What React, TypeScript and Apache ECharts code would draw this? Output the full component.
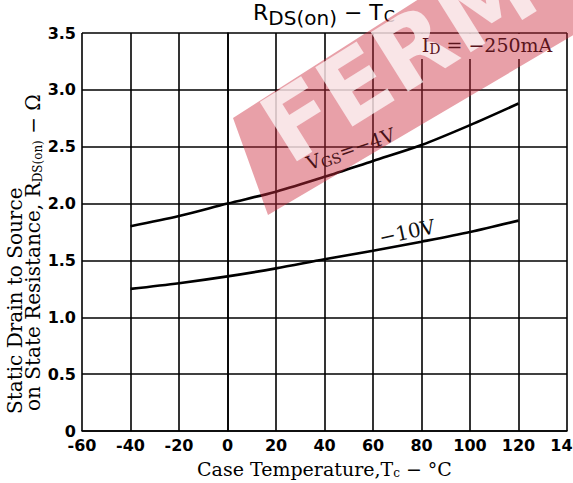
import React, { useEffect, useRef } from 'react';
import * as echarts from 'echarts';

// Case temperature (°C)
const temps = [-40, -20, 0, 20, 40, 60, 80, 100, 120];
// RDS(on) for VGS = -4V and -10V (ohm)
const vgs4 = [1.8, 1.89, 2.0, 2.105, 2.235, 2.375, 2.515, 2.69, 2.88];
const vgs10 = [1.25, 1.3, 1.36, 1.43, 1.51, 1.585, 1.665, 1.75, 1.85];

const xMin = -60;
const xMax = 140;
const xStep = 20;
const yMin = 0;
const yMax = 3.5;
const yStep = 0.5;

const SERIF = 'DejaVu Serif';
const SANS = 'DejaVu Sans';

export default function App() {
  const ref = useRef<HTMLDivElement>(null);
  useEffect(() => {
    const chart = echarts.init(ref.current as HTMLDivElement, null, { renderer: 'svg' });
    const lineColor = '#000';
    const option: any = {
      animation: false,
      backgroundColor: '#fff',
      grid: { left: 82, right: 6, top: 33, bottom: 52, containLabel: false, outerBoundsMode: 'none' },
      xAxis: {
        type: 'value',
        min: xMin,
        max: xMax,
        interval: xStep,
        axisLine: { show: true, lineStyle: { color: lineColor, width: 1.6 } },
        axisTick: { show: false },
        splitLine: { show: true, lineStyle: { color: lineColor, width: 1.6 } },
        axisLabel: {
          color: '#000',
          fontFamily: 'DejaVu Sans',
          fontWeight: 'bold',
          fontSize: 16,
          margin: 6,
          showMinLabel: true,
          showMaxLabel: true,
          hideOverlap: false,
          formatter: (v: number) => String(v),
        },
        name: 'Case Temperature,T{s|c} − °C',
        nameLocation: 'middle',
        nameGap: 25,
        nameTextStyle: {
          color: '#000',
          fontFamily: SERIF,
          fontSize: 19,
          verticalAlign: 'top',
          rich: {
            s: { fontFamily: SERIF, fontSize: 12, color: '#000', verticalAlign: 'top', lineHeight: 22, padding: [9, 0, 0, 0] },
          },
        },
      },
      yAxis: {
        type: 'value',
        min: yMin,
        max: yMax,
        interval: yStep,
        axisLine: { show: true, lineStyle: { color: lineColor, width: 1.6 } },
        axisTick: { show: false },
        splitLine: { show: true, lineStyle: { color: lineColor, width: 1.6 } },
        axisLabel: {
          color: '#000',
          fontFamily: 'DejaVu Sans',
          fontWeight: 'bold',
          fontSize: 16,
          margin: 6,
          showMinLabel: true,
          showMaxLabel: true,
          formatter: (v: number) => (v === 0 ? '0' : v.toFixed(1)),
        },
      },
      series: [
        {
          name: 'VGS=-4V',
          type: 'line',
          smooth: 0.3,
          symbol: 'none',
          lineStyle: { color: '#000', width: 2.6 },
          data: temps.map((t, i) => [t, vgs4[i]]),
          z: 3,
        },
        {
          name: '-10V',
          type: 'line',
          smooth: 0.3,
          symbol: 'none',
          lineStyle: { color: '#000', width: 2.6 },
          data: temps.map((t, i) => [t, vgs10[i]]),
          z: 3,
        },
      ],
      graphic: [
        // title
        {
          type: 'text',
          x: 324,
          y: 1,
          z: 20,
          style: {
            text: '{r|R}{d|DS(on)}{r| − T}{c|C}',
            textAlign: 'center',
            textVerticalAlign: 'top',
            fill: '#000',
            rich: {
              r: { fontFamily: SANS, fontSize: 22, lineHeight: 23, verticalAlign: 'top', fill: '#000' },
              d: { fontFamily: SANS, fontSize: 20, lineHeight: 23, verticalAlign: 'top', padding: [7, 0, 0, 0], fill: '#000' },
              c: { fontFamily: SANS, fontSize: 16, lineHeight: 23, verticalAlign: 'top', padding: [7, 0, 0, 1], fill: '#000' },
            },
          },
        },
        // annotation box
        {
          type: 'rect',
          z: 10,
          shape: { x: 375, y: 34, width: 191, height: 25 },
          style: { fill: '#fff' },
        },
        {
          type: 'text',
          x: 487,
          y: 35,
          z: 60,
          style: {
            text: '{a|I}{s|D}{a| = −250mA}',
            textAlign: 'center',
            textVerticalAlign: 'top',
            rich: {
              a: { fontFamily: SERIF, fontSize: 19, lineHeight: 22, verticalAlign: 'top', fill: '#5a141c' },
              s: { fontFamily: SERIF, fontSize: 14, lineHeight: 22, verticalAlign: 'top', padding: [7, 0, 0, 0], fill: '#5a141c' },
            },
          },
        },
        // curve labels
        {
          type: 'text',
          x: 351,
          y: 150,
          rotation: 0.33,
          z: 60,
          style: {
            text: '{a|V}{s|GS}{a|=−4V}',
            textAlign: 'center',
            textVerticalAlign: 'middle',
            rich: {
              a: { fontFamily: SERIF, fontSize: 19, lineHeight: 22, verticalAlign: 'top', fill: '#4a1218' },
              s: { fontFamily: SERIF, fontSize: 14, lineHeight: 22, verticalAlign: 'top', padding: [7, 0, 0, 0], fill: '#4a1218' },
            },
          },
        },
        {
          type: 'text',
          x: 407,
          y: 232,
          rotation: 0.21,
          z: 20,
          style: {
            text: '−10V',
            textAlign: 'center',
            textVerticalAlign: 'middle',
            fontFamily: SERIF,
            fontSize: 20,
            fill: '#111',
          },
        },
        // y axis title (two lines, rotated)
        {
          type: 'text',
          x: 15,
          y: 414,
          rotation: Math.PI / 2,
          z: 20,
          style: {
            text: 'Static Drain to Source',
            textAlign: 'left',
            textVerticalAlign: 'middle',
            fontFamily: SERIF,
            fontSize: 20,
            fill: '#000',
          },
        },
        {
          type: 'text',
          x: 34,
          y: 411,
          rotation: Math.PI / 2,
          z: 20,
          style: {
            text: '{a|on State Resistance, R}{s|DS(on)}{a| − Ω}',
            textAlign: 'left',
            textVerticalAlign: 'middle',
            rich: {
              a: { fontFamily: SERIF, fontSize: 20, lineHeight: 22, verticalAlign: 'top', fill: '#000' },
              s: { fontFamily: SERIF, fontSize: 12, lineHeight: 22, verticalAlign: 'top', padding: [9, 0, 0, 0], fill: '#000' },
            },
          },
        },
        // watermark band
        {
          type: 'polygon',
          z: 50,
          silent: true,
          shape: {
            points: [
              [233, 118],
              [268, 215],
              [660, -16],
              [660, -160],
              [600, -117],
            ],
          },
          style: { fill: 'rgba(204,44,62,0.45)' },
        },
        {
          type: 'text',
          x: 272,
          y: 138,
          rotation: 0.56,
          z: 51,
          silent: true,
          style: {
            text: 'FERM',
            textAlign: 'left',
            textVerticalAlign: 'middle',
            fontFamily: 'DejaVu Sans',
            fontWeight: 'bold',
            fontSize: 96,
            fill: 'rgba(255,255,255,0.72)',
          },
        },
      ],
    };
    chart.setOption(option);
    return () => chart.dispose();
  }, []);
  return (
    <div
      ref={ref}
      style={{ position: 'absolute', left: 0, top: 0, width: 573, height: 483, background: '#fff' }}
    />
  );
}
